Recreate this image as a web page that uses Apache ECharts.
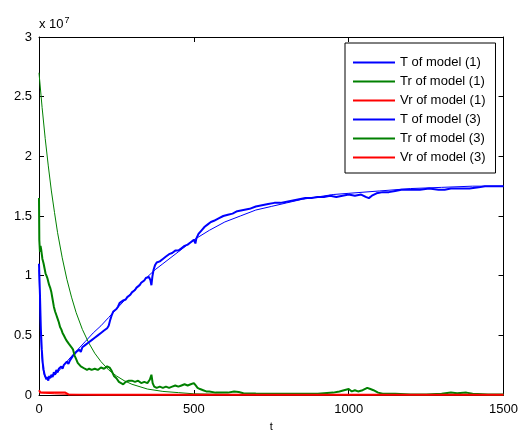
<!DOCTYPE html>
<html>
<head>
<meta charset="utf-8">
<script src="https://cdn.jsdelivr.net/npm/echarts@6/dist/echarts.min.js"></script>
<style>
  html, body { margin: 0; padding: 0; background: #fff; }
  #chart { width: 521px; height: 437px; }
</style>
</head>
<body>
<div id="chart"></div>
<script>
// values are in units of 1e7 (axis shows "x 10^7")
const xTicks = [0, 500, 1000, 1500];
const yTicks = ['0', '0.5', '1', '1.5', '2', '2.5', '3'];
const legendNames = ['T of model (1)', 'Tr of model (1)', 'Vr of model (1)',
                     'T of model (3)', 'Tr of model (3)', 'Vr of model (3)'];

// model (1) - smooth curves
const T1 = [[0,1.05],[2,0.85],[4,0.65],[6,0.5],[8,0.38],[10,0.3],[13,0.22],[16,0.18],[20,0.15],[25,0.14],[30,0.14],
  [40,0.15],[50,0.17],[60,0.19],[70,0.22],[80,0.25],[90,0.28],[100,0.31],[125,0.38],[150,0.45],[175,0.52],[200,0.58],
  [225,0.65],[250,0.72],[275,0.79],[300,0.86],[325,0.93],[350,0.99],[375,1.05],[400,1.1],[450,1.2],[500,1.3],[550,1.38],
  [600,1.45],[650,1.5],[700,1.55],[750,1.58],[800,1.61],[850,1.64],[900,1.66],[950,1.68],[1000,1.69],[1100,1.71],
  [1200,1.73],[1300,1.74],[1400,1.75],[1500,1.75]];
const Tr1 = [[0,2.70],[10,2.41],[20,2.15],[30,1.92],[40,1.71],[50,1.53],[60,1.36],[75,1.15],[90,0.97],[105,0.82],
  [120,0.69],[140,0.55],[160,0.44],[180,0.35],[200,0.28],[225,0.21],[250,0.16],[275,0.12],[300,0.09],[350,0.05],
  [400,0.03],[450,0.02],[500,0.01],[600,0.005],[800,0.001],[1500,0]];
const Vr1 = [[0,0.02],[20,0.015],[50,0.01],[100,0.005],[200,0.002],[500,0.001],[1500,0.001]];

// model (3) - noisy curves
const T3 = [[0,1.10],[3,0.85],[6,0.55],[9,0.38],[12,0.27],[15,0.21],[18,0.17],[21,0.15],[24,0.13],[27,0.15],[30,0.12],
  [33,0.16],[36,0.14],[40,0.17],[44,0.15],[48,0.19],[52,0.17],[56,0.21],[60,0.19],[64,0.22],[68,0.21],[72,0.24],[76,0.22],
  [80,0.25],[85,0.24],[90,0.28],[95,0.26],[100,0.29],[105,0.31],[110,0.33],[115,0.32],[120,0.36],[125,0.35],[130,0.38],
  [135,0.36],[140,0.40],[145,0.39],[150,0.42],[155,0.41],[160,0.44],[165,0.43],[170,0.46],[175,0.45],[180,0.48],[185,0.47],
  [190,0.50],[195,0.49],[200,0.52],[205,0.51],[210,0.54],[215,0.53],[220,0.56],[225,0.58],[230,0.63],[235,0.67],[240,0.70],
  [245,0.69],[250,0.72],[255,0.74],[260,0.77],[265,0.76],[270,0.79],[275,0.78],[280,0.80],[285,0.82],[290,0.81],[295,0.84],
  [300,0.86],[305,0.85],[310,0.88],[315,0.90],[320,0.89],[325,0.92],[330,0.94],[335,0.93],[340,0.96],[345,0.98],[350,0.97],
  [355,0.99],[360,0.96],[363,0.92],[366,0.99],[370,1.05],[375,1.09],[380,1.11],[390,1.12],[400,1.14],[410,1.16],[420,1.18],
  [430,1.19],[440,1.21],[450,1.21],[460,1.23],[470,1.25],[480,1.26],[490,1.28],[500,1.30],[505,1.27],[508,1.31],[515,1.35],
  [525,1.38],[535,1.41],[545,1.43],[555,1.45],[565,1.46],[580,1.48],[595,1.50],[610,1.51],[625,1.52],[640,1.54],[660,1.55],
  [680,1.56],[700,1.58],[720,1.59],[740,1.60],[760,1.61],[780,1.61],[800,1.62],[820,1.63],[840,1.64],[860,1.65],[880,1.65],
  [900,1.66],[920,1.66],[940,1.67],[960,1.66],[980,1.67],[1000,1.68],[1020,1.67],[1040,1.68],[1055,1.66],[1065,1.65],
  [1075,1.67],[1090,1.69],[1110,1.70],[1130,1.70],[1150,1.71],[1170,1.72],[1200,1.72],[1230,1.72],[1260,1.73],[1290,1.72],
  [1310,1.72],[1330,1.73],[1360,1.73],[1390,1.73],[1420,1.74],[1440,1.75],[1460,1.75],[1480,1.75],[1500,1.75]];
const Tr3 = [[0,1.65],[1,1.30],[3,1.20],[5,1.25],[7,1.22],[9,1.18],[11,1.14],[13,1.12],[15,1.10],[18,1.06],[21,1.02],
  [24,1.00],[27,0.98],[30,0.95],[33,0.92],[36,0.90],[40,0.86],[44,0.80],[48,0.74],[52,0.70],[56,0.67],[60,0.64],[64,0.61],
  [68,0.57],[72,0.55],[76,0.52],[80,0.50],[84,0.48],[88,0.46],[92,0.45],[96,0.43],[100,0.43],[105,0.40],[110,0.38],
  [115,0.33],[120,0.30],[125,0.27],[130,0.26],[135,0.24],[140,0.23],[148,0.22],[155,0.21],[162,0.22],[170,0.21],[180,0.22],
  [190,0.21],[200,0.23],[210,0.22],[220,0.24],[228,0.23],[235,0.20],[242,0.16],[250,0.14],[258,0.11],[265,0.10],[272,0.09],
  [280,0.11],[290,0.12],[300,0.12],[310,0.11],[320,0.12],[330,0.10],[340,0.11],[350,0.10],[358,0.13],[363,0.17],[367,0.10],
  [372,0.07],[380,0.06],[390,0.07],[400,0.06],[410,0.07],[420,0.06],[430,0.07],[440,0.08],[450,0.07],[460,0.08],[470,0.09],
  [480,0.08],[490,0.09],[500,0.10],[506,0.08],[512,0.06],[520,0.05],[530,0.04],[540,0.03],[550,0.03],[570,0.02],[590,0.02],
  [610,0.02],[630,0.03],[645,0.025],[660,0.015],[700,0.012],[750,0.01],[800,0.01],[850,0.01],[900,0.01],[950,0.02],
  [970,0.03],[985,0.04],[1000,0.05],[1010,0.03],[1020,0.04],[1030,0.03],[1045,0.04],[1060,0.06],[1070,0.05],[1080,0.04],
  [1095,0.02],[1110,0.01],[1150,0.01],[1200,0.005],[1250,0.005],[1300,0.01],[1330,0.02],[1350,0.015],[1380,0.02],
  [1400,0.01],[1450,0.005],[1500,0.005]];
const Vr3 = [[0,0.04],[5,0.02],[10,0.025],[30,0.02],[60,0.02],[85,0.02],[95,0.005],[200,0.003],[1500,0.002]];

const font = 'Liberation Sans, Arial, sans-serif';
const BLUE = '#0000ff', GREEN = '#008000', RED = '#ff0000';
const seriesColors = [BLUE, GREEN, RED, BLUE, GREEN, RED];

function line(name, data, color, width) {
  return {
    name: name, type: 'line', data: data, symbol: 'none',
    xAxisIndex: 0, yAxisIndex: 0, animation: false,
    lineStyle: { color: color, width: width }, itemStyle: { color: color }
  };
}

const axisCommon = {
  min: 0,
  axisLine: { show: true, onZero: false, lineStyle: { color: '#000', width: 1 } },
  axisTick: { show: true, inside: true, length: 5, lineStyle: { color: '#000' } },
  splitLine: { show: false }
};

var myChart = echarts.init(document.getElementById('chart'));
myChart.setOption({
  animation: false,
  backgroundColor: '#fff',
  grid: { left: 39, right: 16, top: 37, bottom: 33 },
  legend: {
    data: legendNames.map((n, i) => ({
      name: n, icon: 'rect',
      itemStyle: { color: seriesColors[i], borderWidth: 0, opacity: 1 }
    })),
    orient: 'vertical',
    left: 345, top: 43,
    padding: [12, 10, 8, 8],
    itemWidth: 42, itemHeight: 2, itemGap: 4,
    backgroundColor: '#fff', borderColor: '#000', borderWidth: 1,
    textStyle: { fontFamily: font, fontSize: 13, color: '#000', lineHeight: 15 }
  },
  xAxis: [
    Object.assign({}, axisCommon, {
      type: 'value', max: 1500, interval: 500, position: 'bottom',
      name: 't', nameLocation: 'middle', nameGap: 26,
      nameTextStyle: { fontFamily: font, fontSize: 11, color: '#000' },
      axisLabel: { fontFamily: font, fontSize: 13, color: '#000', margin: 8,
        formatter: v => xTicks.includes(v) ? String(v) : '' }
    }),
    Object.assign({}, axisCommon, {
      type: 'value', max: 1500, interval: 500, position: 'top', axisLabel: { show: false }
    })
  ],
  yAxis: [
    Object.assign({}, axisCommon, {
      type: 'value', max: 3, interval: 0.5, position: 'left',
      name: '{b|x 10}{s|7}', nameLocation: 'end', nameGap: 4,
      nameTextStyle: { align: 'left', verticalAlign: 'bottom',
        rich: {
          b: { fontFamily: font, fontSize: 13, color: '#000' },
          s: { fontFamily: font, fontSize: 9, color: '#000', verticalAlign: 'top', padding: [0, 0, 8, 1] }
        } },
      axisLabel: { fontFamily: font, fontSize: 13, color: '#000', margin: 7,
        formatter: v => yTicks[Math.round(v / 0.5)] }
    }),
    Object.assign({}, axisCommon, {
      type: 'value', max: 3, interval: 0.5, position: 'right', axisLabel: { show: false }
    })
  ],
  series: [
    line(legendNames[0], T1, BLUE, 1),
    line(legendNames[1], Tr1, GREEN, 1),
    line(legendNames[2], Vr1, RED, 1),
    line(legendNames[3], T3, BLUE, 2),
    line(legendNames[4], Tr3, GREEN, 2),
    line(legendNames[5], Vr3, RED, 2)
  ]
});
</script>
</body>
</html>
